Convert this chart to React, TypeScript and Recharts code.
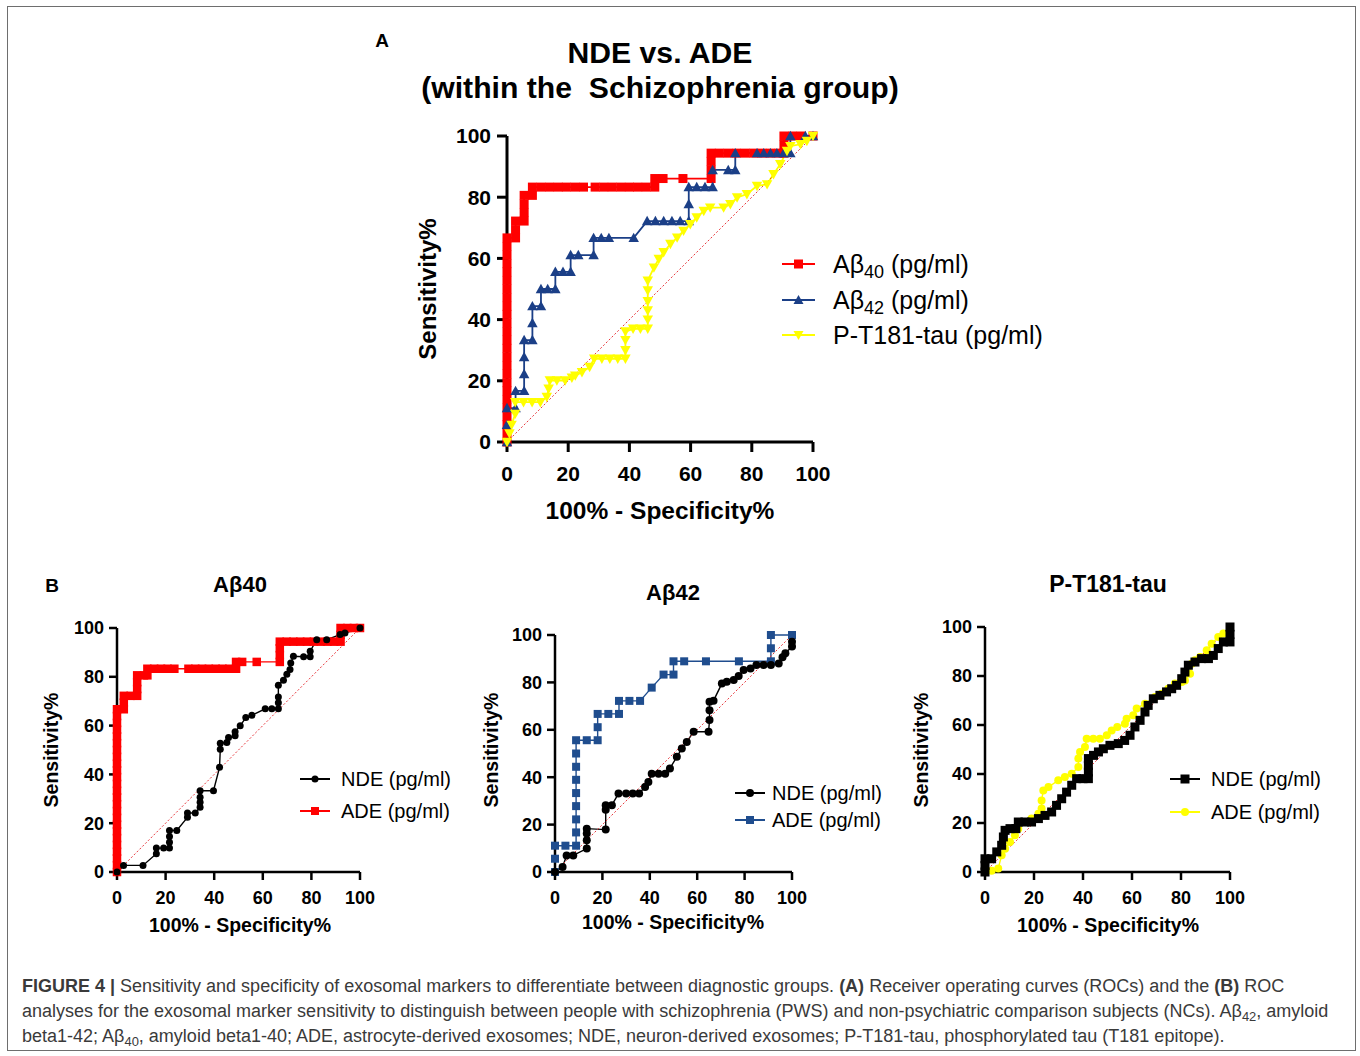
import React from "react";
import { LineChart, Line, XAxis, YAxis } from "recharts";

type Pt = { x: number; y: number };
const pts = (a: number[][]): Pt[] => a.map(([x, y]) => ({ x, y }));

const ticks = [0, 20, 40, 60, 80, 100];
const chance = pts([[0, 0], [100, 100]]);

// ---- Panel A: NDE vs. ADE within the schizophrenia group ----
const aAb40 = pts([
  [0, 0], [0, 2.8], [0, 5.6], [0, 8.3], [0, 11.1], [0, 13.9], [0, 16.7], [0, 19.4], [0, 22.2], [0, 25],
  [0, 27.8], [0, 30.6], [0, 33.3], [0, 36.1], [0, 38.9], [0, 41.7], [0, 44.4], [0, 47.2], [0, 50], [0, 52.8],
  [0, 55.6], [0, 58.3], [0, 61.1], [0, 63.9], [0, 66.7], [2.8, 66.7], [2.8, 69.4], [2.8, 72.2], [5.6, 72.2],
  [5.6, 75], [5.6, 77.8], [5.6, 80.6], [8.3, 80.6], [8.3, 83.3], [11.1, 83.3], [13.9, 83.3], [16.7, 83.3],
  [19.4, 83.3], [22.2, 83.3], [25, 83.3], [28.8, 83.3], [31.6, 83.3], [34.4, 83.3], [37.2, 83.3], [40, 83.3],
  [42.7, 83.3], [45.5, 83.3], [48.3, 83.3], [48.3, 86.1], [51, 86.1], [57.5, 86.1], [66.7, 86.1], [66.7, 88.9],
  [66.7, 91.7], [66.7, 94.4], [69.4, 94.4], [72.2, 94.4], [75, 94.4], [77.8, 94.4], [80.6, 94.4], [83.3, 94.4],
  [86.1, 94.4], [88.9, 94.4], [90.5, 94.4], [90.5, 97.2], [90.5, 100], [93.3, 100], [96.1, 100], [100, 100],
]);
const aAb42 = pts([
  [0, 0], [0, 5.6], [0, 11.1], [2.8, 11.1], [2.8, 16.7], [5.6, 16.7], [5.6, 22.2], [5.6, 27.8], [5.6, 33.3],
  [8.3, 33.3], [8.3, 38.9], [8.3, 44.4], [11.1, 44.4], [11.1, 50], [13.3, 50], [15.8, 50], [15.8, 55.6],
  [18.3, 55.6], [20.8, 55.6], [20.8, 61.1], [23.3, 61.1], [28.3, 61.1], [28.3, 66.7], [30.8, 66.7], [33.3, 66.7],
  [41.4, 66.7], [45.8, 72.2], [48.5, 72.2], [51.2, 72.2], [53.9, 72.2], [56.6, 72.2], [59.4, 72.2], [59.4, 77.8],
  [59.4, 83.3], [62, 83.3], [64.7, 83.3], [67.2, 83.3], [67.2, 88.9], [72.3, 88.9], [74.6, 88.9], [74.6, 94.4],
  [81.7, 94.4], [83.9, 94.4], [86.1, 94.4], [88.2, 94.4], [90.4, 94.4], [92.6, 94.4], [92.6, 100], [97.5, 100],
  [100, 100],
]);
const aTau = pts([
  [0, 0], [0.8, 2.8], [1.5, 5.6], [2.7, 9.2], [2.7, 13], [5.4, 13], [8.2, 13], [10.9, 13], [13, 14.7],
  [13.6, 17.4], [14, 20.1], [16.3, 20.1], [19, 20.1], [21.2, 21], [22.3, 21.7], [24.5, 22.8], [27, 24.5],
  [28.5, 27.2], [31, 27.2], [33.6, 27.2], [36.2, 27.2], [38.7, 27.2], [38.7, 30], [38.7, 33.3], [38.7, 36.1],
  [41.2, 37], [43.6, 37], [46, 37], [46, 40], [46, 43], [46, 46], [46, 49.5], [46, 52.7], [48, 57], [49.6, 59.8],
  [51.2, 62], [53.4, 64.7], [55.6, 66.8], [57.7, 69], [59.9, 71.2], [62, 73.4], [64.3, 75.5], [66.4, 76.6],
  [70.8, 76.6], [73, 77.7], [75.2, 79.9], [78.4, 81], [81.7, 83.7], [85, 84.2], [87.1, 87.5], [89.3, 90.8],
  [91.5, 95.1], [92.6, 96.7], [95.9, 97.3], [98, 98.4], [100, 100],
]);

// ---- Panel B1: Abeta40 ----
const b40Nde = pts([
  [0, 0], [2.7, 2.7], [10.7, 2.7], [16.2, 7.5], [16.2, 9.8], [19.2, 9.8], [21.6, 9.8], [21.6, 12.2], [21.6, 14.6],
  [21.6, 17], [24.6, 17], [29, 22.4], [29, 24.2], [32.2, 24.2], [34.2, 26.5], [34.2, 28.6], [34.2, 30.6],
  [34.2, 33.3], [39.7, 33.3], [42.2, 42.9], [42.5, 50.3], [42.5, 52.8], [45.2, 53.1], [45.9, 55.1], [48.6, 55.8],
  [48.6, 57.5], [50.7, 59.9], [53, 63.3], [55.5, 64.2], [61, 66.9], [63.7, 66.9], [66.4, 66.9], [66.4, 69.4],
  [66.4, 71.7], [66.4, 76.5], [68.5, 78.6], [69.9, 81], [71.2, 83], [71.5, 85.7], [72.6, 88.4], [76.8, 88.2],
  [79.5, 88.2], [79.5, 90.5], [82.2, 95.2], [86.3, 95.2], [91.8, 97.3], [93.8, 97.9], [100, 100],
]);
const b40Ade = pts([
  [0, 0], [0, 2.8], [0, 5.6], [0, 8.3], [0, 11.1], [0, 13.9], [0, 16.7], [0, 19.4], [0, 22.2], [0, 25],
  [0, 27.8], [0, 30.6], [0, 33.3], [0, 36.1], [0, 38.9], [0, 41.7], [0, 44.4], [0, 47.2], [0, 50], [0, 52.8],
  [0, 55.6], [0, 58.3], [0, 61.1], [0, 63.9], [0, 66.7], [2.8, 66.7], [2.8, 69.4], [2.8, 72.2], [5.6, 72.2],
  [8.3, 72.2], [8.3, 75], [8.3, 77.8], [8.3, 80.6], [11.1, 80.6], [12.5, 80.6], [12.5, 83.3], [15.3, 83.3],
  [18.1, 83.3], [20.8, 83.3], [23.6, 83.3], [29.4, 83.3], [32.2, 83.3], [35, 83.3], [37.8, 83.3], [40.6, 83.3],
  [43.4, 83.3], [46.2, 83.3], [49, 83.3], [49, 86.1], [51.5, 86.1], [57.5, 86.1], [67, 86.1], [67, 88.9],
  [67, 91.7], [67, 94.4], [69.8, 94.4], [72.6, 94.4], [75.4, 94.4], [78.2, 94.4], [81, 94.4], [83.8, 94.4],
  [86.6, 94.4], [89.4, 94.4], [92, 94.4], [92, 97.2], [92, 100], [94.8, 100], [97.5, 100], [100, 100],
]);

// ---- Panel B2: Abeta42 ----
const b42Ade = pts([
  [0, 0], [0, 5.6], [0, 11.1], [4.4, 11.1], [8.9, 11.1], [8.9, 16.7], [8.9, 22.2], [8.9, 27.8], [8.9, 33.3],
  [8.9, 38.9], [8.9, 44.4], [8.9, 50], [8.9, 55.6], [13.4, 55.6], [18, 55.6], [18, 61.1], [18, 66.7],
  [22.5, 66.7], [27, 66.7], [27, 72.2], [31.4, 72.2], [35.9, 72.2], [40.8, 77.8], [45.8, 83.3], [50, 83.3],
  [50, 88.9], [54.5, 88.9], [63.7, 88.9], [77.6, 88.9], [91.1, 88.9], [91.1, 94.4], [91.1, 100], [100, 100],
]);
const b42Nde = pts([
  [0, 0], [3.2, 2.1], [4.9, 7], [7.7, 7], [13.4, 9.9], [13.4, 13.4], [13.4, 16.2], [13.4, 18.3], [21.4, 17.9],
  [21.4, 26.3], [21.4, 28.2], [24, 28.2], [26.8, 33.1], [30, 33.1], [32.8, 33.1], [35.5, 33.1], [38, 35.9],
  [39.4, 38], [40.8, 41.5], [43.7, 41.5], [46.5, 41.5], [48.5, 43.7], [51.4, 48.6], [53.5, 52.1], [55.6, 54.9],
  [58.5, 59.2], [64.8, 59.2], [65.2, 64.1], [65.2, 68.3], [65.2, 71.8], [66.9, 72.3], [70.4, 79.5], [72.5, 80.3],
  [75.4, 81], [77.5, 82.7], [79.6, 85.2], [82.5, 85.9], [85, 87.3], [88, 87.3], [91.1, 87.3], [94.4, 88],
  [96, 90.6], [97.2, 92.3], [100, 95.1], [100, 97.2],
]);

// ---- Panel B3: P-T181-tau ----
const bTauAde = pts([
  [0, 0], [2.7, 0.5], [5.4, 1.4], [6.8, 6.8], [8.2, 9.5], [10.2, 12.2], [12.2, 15], [13.6, 17.7], [16.3, 20.4],
  [19, 21.8], [21.8, 23.8], [23.1, 25.9], [23.1, 29.2], [23.8, 33.3], [25.9, 34.7], [29.9, 37.4], [32.6, 38.8],
  [35.4, 40.1], [38.1, 42.9], [38.1, 46.3], [38.8, 49], [40.8, 51], [41.5, 54.4], [44.2, 54.4], [46.9, 54.4],
  [49.7, 55.8], [51.7, 57.8], [54, 59.2], [57.1, 60.5], [57.8, 62.6], [60.5, 64], [61.9, 66.7], [65.3, 68.7],
  [69.4, 71.4], [72.1, 72.8], [74.8, 74.8], [77.5, 76.9], [80.3, 77.6], [81.6, 78.2], [83.7, 80.9], [84.4, 85],
  [85.7, 86.4], [87.8, 87.8], [90.5, 90.5], [92.5, 93.2], [95.2, 95.9], [97.3, 97.3], [100, 100],
]);
const bTauNde = pts([
  [0, 0], [0, 2.7], [0, 5.4], [2.7, 5.4], [4.8, 8.2], [6.8, 10.9], [7.5, 14.3], [8.2, 17], [10.2, 17.7],
  [12.6, 17.7], [13.6, 20.4], [16.3, 20.4], [19, 20.4], [21.8, 21.8], [24.5, 23.1], [27.2, 24.5], [29.2, 27.2],
  [31.3, 29.9], [33.3, 32.6], [35.4, 35.4], [37.4, 38.1], [40, 38.1], [42.2, 38.1], [42.2, 40.8], [42.2, 43.5],
  [42.2, 46.3], [44.3, 47.6], [46.3, 49], [48.3, 50.3], [51, 51.7], [54.4, 52.4], [57, 53.7], [59.2, 55.8],
  [61.2, 59.2], [63.3, 61.9], [65.3, 65.3], [66.6, 68], [68.7, 70.7], [71.4, 72.1], [74.1, 73.5], [76.2, 74.8],
  [78.2, 76.2], [80.3, 78.9], [81.6, 81.6], [83, 84.4], [85.7, 85.7], [88.4, 87.1], [91.2, 87.1], [93.2, 88.4],
  [95.2, 91.2], [97.3, 93.9], [100, 93.9], [100, 97], [100, 100],
]);

const FONT = '"Liberation Sans", Arial, Helvetica, sans-serif';
const RED = "#ff0000";
const NAVY = "#1b3f87";
const BLUE = "#1f4d8e";
const YELLOW = "#ffff00";

type Shape = "square" | "triUp" | "triDown" | "circle";

function Marker({ shape, cx, cy, size, fill }: { shape: Shape; cx: number; cy: number; size: number; fill: string }) {
  const h = size / 2;
  if (shape === "square") return <rect x={cx - h} y={cy - h} width={size} height={size} fill={fill} />;
  if (shape === "circle") return <circle cx={cx} cy={cy} r={h} fill={fill} />;
  if (shape === "triUp")
    return <polygon points={`${cx - h},${cy + h * 0.8} ${cx + h},${cy + h * 0.8} ${cx},${cy - h}`} fill={fill} />;
  return <polygon points={`${cx - h},${cy - h * 0.8} ${cx + h},${cy - h * 0.8} ${cx},${cy + h}`} fill={fill} />;
}

const dotOf = (shape: Shape, size: number, fill: string) => (p: any) => {
  const key = `d-${p.index}`;
  if (p.cx == null || p.cy == null) return <g key={key} />;
  return (
    <g key={key}>
      <Marker shape={shape} cx={p.cx} cy={p.cy} size={size} fill={fill} />
    </g>
  );
};

type Series = { name: string; data: Pt[]; color: string; shape: Shape; size: number; width: number };

type RocProps = {
  left: number;
  top: number;
  w: number;
  h: number;
  series: Series[];
  tickFont: number;
  axisW: number;
  tickLen: number;
  xGap: number;
  yGap: number;
};

function Roc({ left, top, w, h, series, tickFont, axisW, tickLen, xGap, yGap }: RocProps) {
  const yw = 80;
  const mt = 14;
  const mr = 34;
  const xh = 50;
  const tickStyle = { fontSize: tickFont, fontWeight: 700, fill: "#000", fontFamily: FONT };
  return (
    <div style={{ position: "absolute", left: left - yw, top: top - mt }}>
      <LineChart
        width={yw + w + mr}
        height={mt + h + xh}
        margin={{ top: mt, right: mr, left: 0, bottom: 0 }}
        style={{ overflow: "visible" }}
      >
        <XAxis
          type="number"
          dataKey="x"
          domain={[0, 100]}
          ticks={ticks}
          interval={0}
          height={xh}
          tickSize={tickLen}
          tickMargin={xGap}
          tick={tickStyle}
          axisLine={{ stroke: "#000", strokeWidth: axisW }}
          tickLine={{ stroke: "#000", strokeWidth: axisW }}
        />
        <YAxis
          type="number"
          dataKey="y"
          domain={[0, 100]}
          ticks={ticks}
          interval={0}
          width={yw}
          tickSize={tickLen}
          tickMargin={yGap}
          tick={tickStyle}
          axisLine={{ stroke: "#000", strokeWidth: axisW }}
          tickLine={{ stroke: "#000", strokeWidth: axisW }}
        />
        {series.map((s) => (
          <Line
            key={s.name}
            data={s.data}
            dataKey="y"
            type="linear"
            stroke={s.color}
            strokeWidth={s.width}
            dot={dotOf(s.shape, s.size, s.color)}
            activeDot={false}
            isAnimationActive={false}
          />
        ))}
        <Line
          data={chance}
          dataKey="y"
          type="linear"
          stroke="#e8383d"
          strokeWidth={1}
          strokeDasharray="2 2"
          dot={false}
          activeDot={false}
          isAnimationActive={false}
        />
      </LineChart>
    </div>
  );
}

function Txt({ x, y, size, bold, rotate, sx, children, color }: any) {
  return (
    <div
      style={{
        position: "absolute",
        left: x,
        top: y,
        transform: `translate(-50%, -50%)${rotate ? " rotate(-90deg)" : ""}${sx ? ` scaleX(${sx})` : ""}`,
        fontSize: size,
        fontWeight: bold ? 700 : 400,
        fontFamily: FONT,
        whiteSpace: "nowrap",
        color: color || "#000",
        lineHeight: 1,
      }}
    >
      {children}
    </div>
  );
}

function LegendRow({ x, y, tx, len, shape, size, color, size2, children }: any) {
  return (
    <>
      <svg style={{ position: "absolute", left: x, top: y - 10 }} width={len} height={20}>
        <line x1={0} y1={10} x2={len} y2={10} stroke={color} strokeWidth={2} />
        <Marker shape={shape} cx={len / 2} cy={10} size={size} fill={color} />
      </svg>
      <div
        style={{
          position: "absolute",
          left: tx,
          top: y,
          transform: "translateY(-50%)",
          fontSize: size2,
          fontFamily: FONT,
          whiteSpace: "nowrap",
          lineHeight: 1,
        }}
      >
        {children}
      </div>
    </>
  );
}

const Sub = ({ children }: any) => (
  <span style={{ fontSize: "0.72em", position: "relative", top: "0.28em", lineHeight: 0 }}>{children}</span>
);

export default function App() {
  return (
    <div style={{ position: "absolute", left: 0, top: 0, width: 1360, height: 1056, background: "#fff", fontFamily: FONT }}>
      <div
        style={{
          position: "absolute",
          left: 7,
          top: 6,
          width: 1349,
          height: 1045,
          border: "1.5px solid #6e6e6e",
          boxSizing: "border-box",
        }}
      />

      {/* Panel A */}
      <Txt x={382} y={40} size={19} bold>A</Txt>
      <Txt x={660} y={53} size={29} sx={1.04} bold>NDE vs. ADE</Txt>
      <Txt x={660} y={88} size={29} sx={1.04} bold>(within the&nbsp; Schizophrenia group)</Txt>
      <Roc
        left={507}
        top={136}
        w={306}
        h={306}
        tickFont={21}
        axisW={3}
        tickLen={10}
        xGap={14}
        yGap={6}
        series={[
          { name: "Ab40", data: aAb40, color: RED, shape: "square", size: 9, width: 1.8 },
          { name: "Ab42", data: aAb42, color: NAVY, shape: "triUp", size: 10.5, width: 1.8 },
          { name: "tau", data: aTau, color: YELLOW, shape: "triDown", size: 10.5, width: 1.8 },
        ]}
      />
      <Txt x={428} y={289} size={24} bold rotate>Sensitivity%</Txt>
      <Txt x={660} y={511} size={24.5} bold>100% - Specificity%</Txt>
      <LegendRow x={782} y={264} tx={833} len={33} shape="square" size={9} color={RED} size2={25}>
        Aβ<Sub>40</Sub> (pg/ml)
      </LegendRow>
      <LegendRow x={782} y={300} tx={833} len={33} shape="triUp" size={10} color={NAVY} size2={25}>
        Aβ<Sub>42</Sub> (pg/ml)
      </LegendRow>
      <LegendRow x={782} y={335} tx={833} len={33} shape="triDown" size={10} color={YELLOW} size2={25}>
        P-T181-tau (pg/ml)
      </LegendRow>

      {/* Panel B1 */}
      <Txt x={52} y={585} size={19} bold>B</Txt>
      <Txt x={240} y={585} size={22} bold>Aβ40</Txt>
      <Roc
        left={117}
        top={628}
        w={243}
        h={244}
        tickFont={18}
        axisW={2.5}
        tickLen={8}
        xGap={11}
        yGap={5}
        series={[
          { name: "ade", data: b40Ade, color: RED, shape: "square", size: 8.5, width: 1.4 },
          { name: "nde", data: b40Nde, color: "#000", shape: "circle", size: 7, width: 1.4 },
        ]}
      />
      <Txt x={52} y={750} size={19.5} bold rotate>Sensitivity%</Txt>
      <Txt x={240} y={926} size={19.5} bold>100% - Specificity%</Txt>
      <LegendRow x={300} y={779} tx={341} len={30} shape="circle" size={7} color="#000" size2={20}>
        NDE (pg/ml)
      </LegendRow>
      <LegendRow x={300} y={811} tx={341} len={30} shape="square" size={8} color={RED} size2={20}>
        ADE (pg/ml)
      </LegendRow>

      {/* Panel B2 */}
      <Txt x={673} y={593} size={22} bold>Aβ42</Txt>
      <Roc
        left={555}
        top={635}
        w={237}
        h={237}
        tickFont={18}
        axisW={2.5}
        tickLen={8}
        xGap={11}
        yGap={5}
        series={[
          { name: "ade", data: b42Ade, color: BLUE, shape: "square", size: 8, width: 1.4 },
          { name: "nde", data: b42Nde, color: "#000", shape: "circle", size: 8, width: 1.4 },
        ]}
      />
      <Txt x={492} y={750} size={19.5} bold rotate>Sensitivity%</Txt>
      <Txt x={673} y={923} size={19.5} bold>100% - Specificity%</Txt>
      <LegendRow x={735} y={793} tx={772} len={30} shape="circle" size={8} color="#000" size2={20}>
        NDE (pg/ml)
      </LegendRow>
      <LegendRow x={735} y={820} tx={772} len={30} shape="square" size={8} color={BLUE} size2={20}>
        ADE (pg/ml)
      </LegendRow>

      {/* Panel B3 */}
      <Txt x={1108} y={584} size={23} bold>P-T181-tau</Txt>
      <Roc
        left={985}
        top={627}
        w={245}
        h={245}
        tickFont={18}
        axisW={2.5}
        tickLen={8}
        xGap={11}
        yGap={5}
        series={[
          { name: "ade", data: bTauAde, color: YELLOW, shape: "circle", size: 8, width: 1.4 },
          { name: "nde", data: bTauNde, color: "#000", shape: "square", size: 9, width: 1.4 },
        ]}
      />
      <Txt x={922} y={750} size={19.5} bold rotate>Sensitivity%</Txt>
      <Txt x={1108} y={926} size={19.5} bold>100% - Specificity%</Txt>
      <LegendRow x={1170} y={779} tx={1211} len={30} shape="square" size={9} color="#000" size2={20}>
        NDE (pg/ml)
      </LegendRow>
      <LegendRow x={1170} y={812} tx={1211} len={30} shape="circle" size={8} color={YELLOW} size2={20}>
        ADE (pg/ml)
      </LegendRow>

      {/* Caption */}
      <div
        style={{
          position: "absolute",
          left: 22,
          top: 974,
          fontSize: 18,
          lineHeight: "25px",
          color: "#3a3a3a",
          fontFamily: FONT,
          whiteSpace: "nowrap",
        }}
      >
        <div>
          <b>FIGURE 4 |</b> Sensitivity and specificity of exosomal markers to differentiate between diagnostic groups.{" "}
          <b>(A)</b> Receiver operating curves (ROCs) and the <b>(B)</b> ROC
        </div>
        <div>
          analyses for the exosomal marker sensitivity to distinguish between people with schizophrenia (PWS) and
          non-psychiatric comparison subjects (NCs). Aβ<Sub>42</Sub>, amyloid
        </div>
        <div>
          beta1-42; Aβ<Sub>40</Sub>, amyloid beta1-40; ADE, astrocyte-derived exosomes; NDE, neuron-derived exosomes;
          P-T181-tau, phosphorylated tau (T181 epitope).
        </div>
      </div>
    </div>
  );
}
